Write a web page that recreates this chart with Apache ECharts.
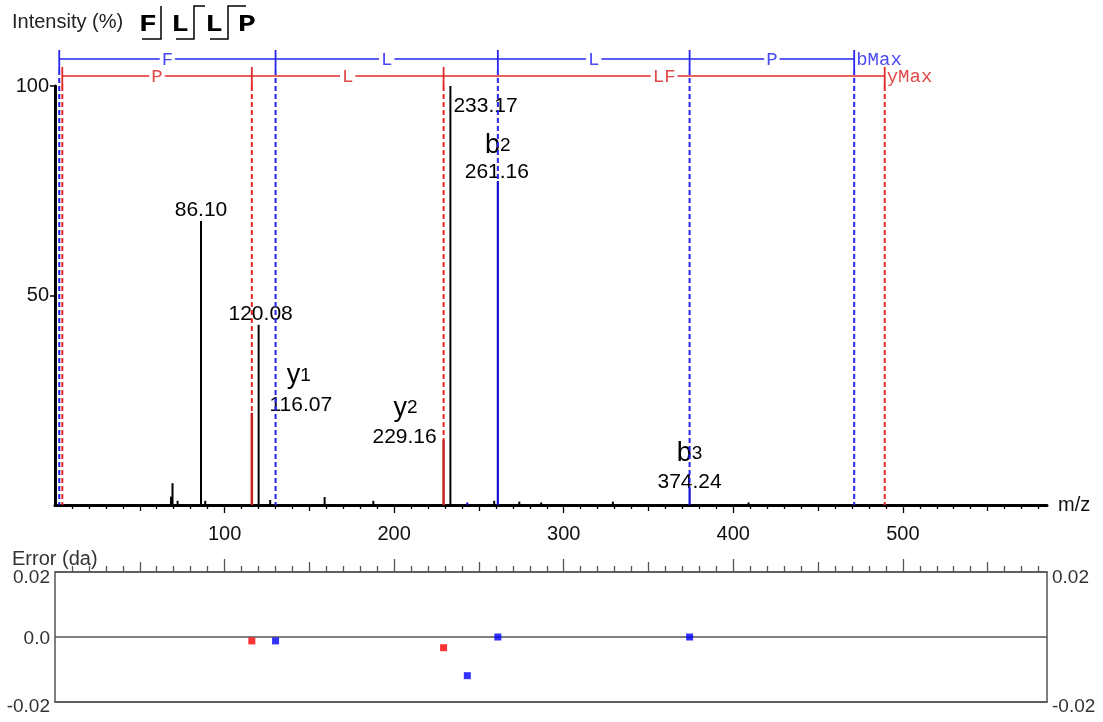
<!DOCTYPE html>
<html><head><meta charset="utf-8">
<script src="https://cdn.jsdelivr.net/npm/echarts@6/dist/echarts.min.js"></script>
<style>html,body{margin:0;padding:0;background:#fff}#c{width:1103px;height:722px}</style>
</head><body><div id="c"></div>
<script>
// ---------------- data ----------------
const sequence = ['F', 'L', 'L', 'P'];
// unassigned (black) peaks
const peakMz  = [68.4, 69.3, 72.3, 86.10, 88.6, 120.08, 126.9, 159.0, 187.7, 233.17, 259.0, 273.8, 286.7, 329.0, 409.0];
const peakInt = [2.0,  5.2,  1.0,  67.8,  1.0,  43.0,   1.2,   1.9,   1.0,   100,    1.0,   0.8,   0.6,   0.8,   0.6];
// y ions (red)
const yIonMz   = [116.07, 229.16];
const yIonInt  = [22.0, 15.5];
const yIonName = ['y1', 'y2'];
// b ions (blue)
const bIonMz   = [243.15, 261.16, 374.24];
const bIonInt  = [0.6, 77.3, 4.1];
const bIonName = ['', 'b2', 'b3'];
// labelled unassigned peaks
const labeledMz = [86.10, 120.08, 233.17];
// fragment ladders
const bLadderMz  = [2.5, 130.07, 261.16, 374.24, 471.29];
const bLadderRes = ['F', 'L', 'L', 'P'];
const yLadderMz  = [4.3, 116.07, 229.16, 489.30];
const yLadderRes = ['P', 'L', 'LF'];
// mass errors (da)
const yErrMz = [116.07, 229.16];
const yErr   = [-0.0012, -0.0033];
const bErrMz = [130.07, 243.15, 261.16, 374.24];
const bErr   = [-0.0012, -0.0119, 0.0, 0.0];
// axis ticks / labels
const xMajor = [100, 200, 300, 400, 500];
const xMid   = [50, 150, 250, 350, 450, 550];
const xMinor = [];
for (let v = 10; v < 585; v += 10) if (v % 50 !== 0) xMinor.push(v);
const yTicks   = [50, 100];
const errTicks = [-0.02, 0, 0.02];
const errRightTicks = [-0.02, 0.02];

// ---------------- styles ----------------
const SANS = "'Liberation Sans', Arial, sans-serif";
const MONO = "'Liberation Mono', 'Courier New', monospace";
const XMAX = 585;
const PEAK_COLOR = ['#000000', '#c81e1e', '#1212d0'];
const PEAK_WIDTH = [2, 2.5, 2.2];
const DASH_COLOR = {1: '#e82828', 2: '#2424e6'};
const LADDER = {
  2: {level: 0.587, tickTop: 0.783, tickBot: 0.348, line: '#2626ee', text: '#4a4af2'},
  1: {level: 0.217, tickTop: 0.413, tickBot: 0.043, line: '#e02a2a', text: '#e04a4a'}
};
const LABEL_POS = {
  '86.10':  {dx: 0,   dy: -11,  align: 'center'},
  '120.08': {dx: 2,   dy: -10.5, align: 'center'},
  '233.17': {dx: 3,   dy: 20.5, align: 'left'},
  '116.07': {dx: 49,  dy: -8,   ndx: 47, ndy: -37},
  '229.16': {dx: -39, dy: -3,   ndx: -38, ndy: -32},
  '261.16': {dx: -1,  dy: -8.5, ndx: 0,  ndy: -35.5},
  '374.24': {dx: 0,   dy: -5.5, ndx: 0,  ndy: -34.5}
};
// vertical nudge (px) of error-axis labels
const ERR_LABEL_SHIFT = {'0.02': 12, '0.0': 4, '-0.02': 10};

// ---------------- derived series data ----------------
const peaks = [];
peakMz.forEach((m, i) => peaks.push([m, peakInt[i], 0]));
yIonMz.forEach((m, i) => peaks.push([m, yIonInt[i], 1]));
bIonMz.forEach((m, i) => peaks.push([m, bIonInt[i], 2]));

const drops = [];
bLadderMz.forEach(m => { const j = bIonMz.indexOf(m); drops.push([m, j >= 0 ? bIonInt[j] : 0, 2]); });
yLadderMz.forEach(m => { const j = yIonMz.indexOf(m); drops.push([m, j >= 0 ? yIonInt[j] : 0, 1]); });

const labels = [];
labeledMz.forEach(m => labels.push({mz: m, v: peakInt[peakMz.indexOf(m)], name: ''}));
yIonMz.forEach((m, i) => { if (yIonName[i]) labels.push({mz: m, v: yIonInt[i], name: yIonName[i]}); });
bIonMz.forEach((m, i) => { if (bIonName[i]) labels.push({mz: m, v: bIonInt[i], name: bIonName[i]}); });

const ladders = [
  {mz: bLadderMz, res: bLadderRes, end: 'bMax', kind: 2},
  {mz: yLadderMz, res: yLadderRes, end: 'yMax', kind: 1}
];

// ---------------- chart ----------------
const chart = echarts.init(document.getElementById('c'), null, {renderer: 'canvas'});

function tickAxis(grid, pos, values, len, color, extra) {
  return Object.assign({
    type: 'value', gridIndex: grid, position: pos, min: 0, max: XMAX,
    axisLine: {show: false, onZero: false},
    axisTick: {show: true, customValues: values, length: len, lineStyle: {color: color, width: 1.3}},
    axisLabel: {show: false}, splitLine: {show: false}
  }, extra || {});
}
const errFmt = v => Math.abs(v) < 1e-9 ? '0.0' : v.toFixed(2);
const errLabel = v => { const s = errFmt(v); return '{s' + ERR_LABEL_SHIFT[s] + '|' + s + '}'; };
const errRich = {};
Object.keys(ERR_LABEL_SHIFT).forEach(k => {
  const p = ERR_LABEL_SHIFT[k];
  errRich['s' + p] = {padding: [p, 0, 0, 0], fontSize: 19, fontFamily: SANS, color: '#333'};
});

const option = {
  animation: false,
  backgroundColor: '#ffffff',
  grid: [
    {left: 55, right: 56, top: 86, height: 419},
    {left: 55, right: 56, top: 40, height: 46},
    {left: 55, right: 56, top: 572, height: 130}
  ],
  xAxis: [
    tickAxis(0, 'bottom', xMajor, 8, '#000', {
      axisLine: {show: true, onZero: false, lineStyle: {color: '#000', width: 3}},
      axisLabel: {show: true, customValues: xMajor, margin: 19, fontSize: 20, fontFamily: SANS, color: '#111'},
      name: 'm/z', nameLocation: 'end', nameGap: 11,
      nameTextStyle: {fontSize: 20, fontFamily: SANS, color: '#111', verticalAlign: 'middle', padding: [14, 0, 0, 0]}
    }),
    tickAxis(0, 'bottom', xMid, 6, '#000'),
    tickAxis(0, 'bottom', xMinor, 4, '#000'),
    {type: 'value', gridIndex: 1, min: 0, max: XMAX, show: false},
    tickAxis(2, 'top', xMajor, 13, '#555', {axisLine: {show: true, onZero: false, lineStyle: {color: '#555', width: 1.5}}}),
    tickAxis(2, 'top', xMid, 10, '#555'),
    tickAxis(2, 'top', xMinor, 6, '#555'),
    tickAxis(2, 'bottom', [], 0, '#555', {axisLine: {show: true, onZero: false, lineStyle: {color: '#555', width: 1.5}}, axisTick: {show: false}})
  ],
  yAxis: [
    {type: 'value', gridIndex: 0, min: 0, max: 100, interval: 50,
      axisLine: {show: true, onZero: false, lineStyle: {color: '#000', width: 3}},
      axisTick: {show: true, customValues: yTicks, length: 5, lineStyle: {color: '#000', width: 1.5}},
      axisLabel: {customValues: yTicks, margin: 6, fontSize: 20, fontFamily: SANS, color: '#111'},
      splitLine: {show: false}},
    {type: 'value', gridIndex: 1, min: 0, max: 1, show: false},
    {type: 'value', gridIndex: 2, min: -0.02, max: 0.02, interval: 0.02,
      axisLine: {show: true, onZero: false, lineStyle: {color: '#555', width: 1.5}},
      axisTick: {show: false},
      axisLabel: {customValues: errTicks, margin: 5, formatter: errLabel, rich: errRich},
      splitLine: {show: true, lineStyle: {color: '#555', width: 1.5}}},
    {type: 'value', gridIndex: 2, position: 'right', min: -0.02, max: 0.02, interval: 0.02,
      axisLine: {show: true, onZero: false, lineStyle: {color: '#555', width: 1.5}},
      axisTick: {show: false},
      axisLabel: {customValues: errRightTicks, margin: 5, formatter: errLabel, rich: errRich},
      splitLine: {show: false}}
  ],
  graphic: [
    {type: 'text', left: 12, top: 12, style: {text: 'Intensity (%)', fontSize: 20, fontFamily: SANS, fill: '#222'}},
    {type: 'text', left: 12, top: 549, style: {text: 'Error (da)', fontSize: 20, fontFamily: SANS, fill: '#333'}}
  ].concat(sequence.map((r, i) => ({
    type: 'text', x: [148, 180, 214, 247][i], y: 25, scaleX: 1.3,
    style: {text: r, fontSize: 23, fontWeight: 'bold', fontFamily: MONO, fill: '#000', align: 'center', verticalAlign: 'middle'}
  }))).concat([
    {type: 'polyline', shape: {points: [[142, 39], [161, 39], [161, 6]]}, style: {stroke: '#000', lineWidth: 1.5, fill: null}},
    {type: 'polyline', shape: {points: [[176, 39], [194, 39], [194, 6], [205, 6]]}, style: {stroke: '#000', lineWidth: 1.5, fill: null}},
    {type: 'polyline', shape: {points: [[210, 39], [228, 39], [228, 6], [246, 6]]}, style: {stroke: '#000', lineWidth: 1.5, fill: null}}
  ]),
  series: [
    // labels (under dashed lines)
    {type: 'custom', xAxisIndex: 0, yAxisIndex: 0, clip: false, z: 3,
      data: labels.map((l, i) => [l.mz, l.v, i]),
      renderItem: (params, api) => {
        const l = labels[api.value(2)];
        const p = api.coord([api.value(0), api.value(1)]);
        const key = l.mz.toFixed(2);
        const st = LABEL_POS[key];
        const ch = [{type: 'text', x: p[0] + st.dx, y: p[1] + st.dy,
          style: {text: key, fontSize: 21, fontFamily: SANS, fill: '#000', align: st.align || 'center', verticalAlign: 'middle'}}];
        if (l.name) {
          ch.push({type: 'text', x: p[0] + st.ndx, y: p[1] + st.ndy,
            style: {text: '{a|' + l.name[0] + '}{b|' + l.name.slice(1) + '}',
              rich: {a: {fontSize: 27, fontFamily: SANS, fill: '#000', verticalAlign: 'bottom'},
                     b: {fontSize: 19, fontFamily: SANS, fill: '#000', verticalAlign: 'bottom', padding: [0, 0, 4, 0]}},
              align: 'center', verticalAlign: 'middle'}});
        }
        return {type: 'group', children: ch};
      }},
    // peaks
    {type: 'custom', xAxisIndex: 0, yAxisIndex: 0, clip: false, z: 4, data: peaks,
      renderItem: (params, api) => {
        const m = api.value(0), v = api.value(1), k = api.value(2);
        const a = api.coord([m, 0]), b = api.coord([m, v]);
        return {type: 'line', shape: {x1: a[0], y1: a[1], x2: b[0], y2: b[1]},
          style: {stroke: PEAK_COLOR[k], lineWidth: PEAK_WIDTH[k]}};
      }},
    // dashed drops from ladders
    {type: 'custom', xAxisIndex: 0, yAxisIndex: 0, clip: false, z: 5, data: drops,
      renderItem: (params, api) => {
        const m = api.value(0), v = api.value(1), k = api.value(2);
        const a = api.coord([m, 100]), b = api.coord([m, v]);
        return {type: 'line', shape: {x1: a[0], y1: a[1], x2: b[0], y2: b[1]},
          style: {stroke: DASH_COLOR[k], lineWidth: 2, lineDash: [5, 3]}};
      }},
    // ladders
    {type: 'custom', xAxisIndex: 3, yAxisIndex: 1, clip: false, z: 5, data: [[0], [1]],
      renderItem: (params, api) => {
        const L = ladders[params.dataIndex];
        const S = LADDER[L.kind];
        const ch = [];
        const n = L.mz.length;
        const a = api.coord([L.mz[0], S.level]), b = api.coord([L.mz[n - 1], S.level]);
        ch.push({type: 'line', shape: {x1: a[0], y1: a[1], x2: b[0], y2: b[1]}, style: {stroke: S.line, lineWidth: 1.6}});
        L.mz.forEach(m => {
          const t = api.coord([m, S.tickTop]), u = api.coord([m, S.tickBot]), w = api.coord([m, 0]);
          ch.push({type: 'line', shape: {x1: t[0], y1: t[1], x2: u[0], y2: u[1]}, style: {stroke: S.line, lineWidth: 1.8}});
          ch.push({type: 'line', shape: {x1: u[0], y1: u[1], x2: w[0], y2: w[1]}, style: {stroke: S.line, lineWidth: 2, lineDash: [5, 3]}});
        });
        L.res.forEach((r, i) => {
          const c = api.coord([(L.mz[i] + L.mz[i + 1]) / 2, S.level]);
          ch.push({type: 'text', x: c[0], y: c[1] + 1, z2: 10,
            style: {text: r, fontSize: 19, fontFamily: MONO, fill: S.text, backgroundColor: '#fff', padding: [0, 2],
              align: 'center', verticalAlign: 'middle'}});
        });
        ch.push({type: 'text', x: b[0] + 2, y: b[1] + 1, z2: 10,
          style: {text: L.end, fontSize: 19, fontFamily: MONO, fill: S.text, align: 'left', verticalAlign: 'middle'}});
        return {type: 'group', children: ch};
      }},
    // errors
    {type: 'scatter', xAxisIndex: 4, yAxisIndex: 2, symbol: 'rect', symbolSize: 7, z: 6,
      itemStyle: {color: '#ff0000'}, data: yErrMz.map((m, i) => [m, yErr[i]])},
    {type: 'scatter', xAxisIndex: 4, yAxisIndex: 2, symbol: 'rect', symbolSize: 7, z: 6,
      itemStyle: {color: '#0000ff'}, data: bErrMz.map((m, i) => [m, bErr[i]])}
  ]
};
chart.setOption(option);
</script>
</body></html>
